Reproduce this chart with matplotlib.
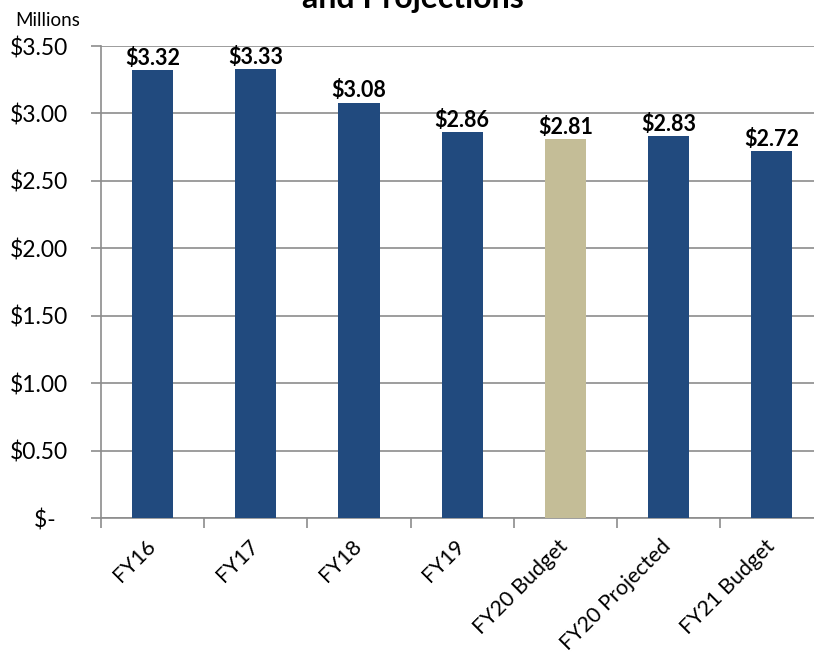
import matplotlib
matplotlib.use('Agg')
import matplotlib.pyplot as plt
import matplotlib.transforms as mtransforms
import numpy as np

plt.rcParams['font.family'] = ['Lato', 'DejaVu Sans']

categories = ['FY16', 'FY17', 'FY18', 'FY19', 'FY20 Budget', 'FY20 Projected', 'FY21 Budget']
values = [3.32, 3.33, 3.08, 2.86, 2.81, 2.83, 2.72]
colors = ['#214A7E', '#214A7E', '#214A7E', '#214A7E', '#C4BD97', '#214A7E', '#214A7E']
yticks = [0, 0.5, 1.0, 1.5, 2.0, 2.5, 3.0, 3.5]
ytick_labels = ['$-  ', '$0.50', '$1.00', '$1.50', '$2.00', '$2.50', '$3.00', '$3.50']

fig = plt.figure(figsize=(8.14, 6.63), dpi=100)
ax = fig.add_axes([101/814, 1-518/663, 722.4/814, (518-46)/663])

x = np.arange(len(categories))
ax.bar(x, values, width=0.4, color=colors, zorder=3)
for xi, v in zip(x, values):
    ax.text(xi, v + 0.01, '${:.2f}'.format(v), ha='center', va='bottom',
            fontsize=15.5, fontweight='bold', zorder=4)

ax.set_xlim(-0.5, len(categories) - 0.5)
ax.set_ylim(0, 3.5)
ax.set_yticks(yticks)
ax.set_yticklabels(ytick_labels, fontsize=16.5)
ax.yaxis.grid(True, color='#8C8C8C', linewidth=1.2, zorder=0)
ax.tick_params(axis='y', length=7, color='#8C8C8C', width=1.2, pad=17)

ax.set_xticks(np.arange(len(categories) + 1) - 0.5)
ax.set_xticklabels([])
ax.tick_params(axis='x', length=7, color='#8C8C8C', width=1.2)
ax.set_xticks(x, minor=True)
ax.set_xticklabels(categories, minor=True, rotation=45, ha='right',
                   rotation_mode='anchor', fontsize=15.5)
ax.tick_params(axis='x', which='minor', length=0, pad=13)
offset = mtransforms.ScaledTranslation(-0.075, 0, fig.dpi_scale_trans)
for lab in ax.get_xticklabels(minor=True):
    lab.set_transform(lab.get_transform() + offset)

for s in ['top', 'right']:
    ax.spines[s].set_visible(False)
for s in ['left', 'bottom']:
    ax.spines[s].set_color('#8C8C8C')
    ax.spines[s].set_linewidth(1.2)

fig.text(15/814, 1-29/663, 'Millions', fontsize=13.5, ha='left', va='bottom')
fig.text(413/814, 1-13/663, 'and Projections', fontsize=23, fontweight='bold',
         ha='center', va='bottom')

fig.savefig('out.png', dpi=100)
